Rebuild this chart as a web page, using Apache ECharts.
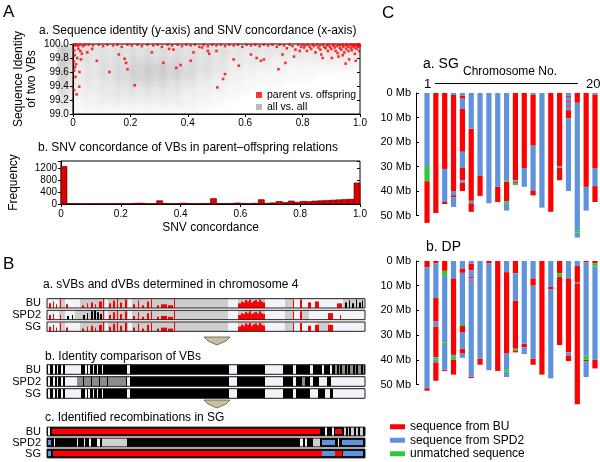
<!DOCTYPE html>
<html><head><meta charset="utf-8">
<script src="https://cdn.jsdelivr.net/npm/echarts@6/dist/echarts.min.js"></script>
<style>
html,body{margin:0;padding:0;background:#fff;}
#wrap{position:relative;width:600px;height:462px;overflow:hidden;}
#cloudBox{position:absolute;left:57px;top:44px;width:303px;height:70px;overflow:hidden;}
#cloud{width:303px;height:70px;filter:blur(2.5px);}
#main{position:absolute;left:0;top:0;width:600px;height:462px;}
</style></head><body>
<div id="wrap"><div id="cloudBox"><div id="cloud"></div></div><div id="main"></div></div>
<script>
const FONT='"Liberation Sans", Arial, Helvetica, sans-serif';
const RED='#ff0000', BLUE='#5f93db', GREEN='#2fc83c';

// ---------- Panel A.a : all vs all density, rows top->bottom ----------
const cloudXEdges=[0,0.03,0.05,0.1,0.15,0.2,0.25,0.3,0.35,0.4,0.45,0.5,0.55,0.6,0.65,0.7,0.75,0.8,0.85,0.9,0.95,1.0];
const cloudYEdges=[100,99.9,99.8,99.7,99.6,99.5,99.4,99.3,99.2,99.1,99.0];
const cloudDensity=[
 [9,6,5,5,5,5,5,5,5,5,5,5,4,4,4,4,4,4,4,4,4],
 [9,5,4,4,4,5,5,5,5,5,4,4,4,3,3,3,3,3,3,3,3],
 [9,5,4,4,5,5,6,6,6,5,5,4,3,3,3,2,2,2,2,2,2],
 [8,4,3,4,5,6,7,8,7,6,5,4,3,2,2,2,1,1,1,1,1],
 [8,4,3,4,5,6,7,7,7,6,4,3,2,2,1,1,1,1,0,0,0],
 [7,3,3,3,4,5,6,6,5,4,3,2,2,1,1,1,0,0,0,0,0],
 [6,3,2,3,3,4,4,4,4,3,2,2,1,1,0,0,0,0,0,0,0],
 [5,2,2,2,3,3,3,3,3,2,2,1,1,0,0,0,0,0,0,0,0],
 [4,2,1,2,2,2,2,2,2,2,1,1,0,0,0,0,0,0,0,0,0],
 [3,1,1,1,1,1,1,1,1,1,1,0,0,0,0,0,0,0,0,0,0]
];
// parent vs offspring points [SNV concordance, sequence identity]
const redPts=[
[0.003,99.99],[0.008,99.98],[0.012,99.99],[0.018,99.97],[0.025,99.99],[0.004,99.91],[0.006,99.84],[0.003,99.75],[0.007,99.67],[0.004,99.62],[0.009,99.53],[0.004,99.34],[0.013,99.28],[0.022,99.39],[0.023,99.6],[0.026,99.9],[0.031,99.86],[0.019,99.93],[0.015,99.8],[0.011,99.71],[0.028,99.78],[0.035,99.97],[0.042,99.99],
[0.05,99.88],[0.067,99.93],[0.083,99.76],[0.127,99.6],[0.16,99.85],[0.18,99.79],[0.185,99.73],[0.19,99.64],[0.215,99.41],[0.275,99.88],[0.315,99.73],[0.335,99.93],[0.35,99.92],[0.36,99.66],[0.375,99.7],[0.41,99.76],[0.42,99.88],[0.45,99.95],[0.47,99.9],[0.475,99.86],[0.5,99.9],[0.503,99.38],[0.523,99.5],[0.53,99.57],[0.56,99.78],[0.578,99.69],[0.62,99.85],[0.64,99.8],[0.655,99.76],[0.665,99.78],[0.716,99.64],[0.73,99.85],[0.74,99.73],[0.77,99.82],[0.79,99.9],
[0.055,99.99],[0.07,99.98],[0.09,99.99],[0.105,99.97],[0.12,99.99],[0.14,99.98],[0.155,99.99],[0.17,99.96],[0.19,99.99],[0.205,99.98],[0.225,99.99],[0.24,99.97],[0.26,99.99],[0.28,99.98],[0.295,99.99],[0.31,99.96],[0.33,99.99],[0.345,99.98],[0.365,99.99],[0.38,99.97],[0.395,99.99],[0.41,99.98],[0.425,99.99],[0.44,99.96],[0.455,99.99],[0.47,99.97],[0.485,99.99],[0.5,99.98],[0.515,99.99],[0.53,99.97],[0.545,99.99],[0.56,99.98],[0.575,99.99],[0.59,99.96],[0.605,99.99],[0.62,99.98],[0.635,99.99],[0.65,99.97],[0.665,99.99],[0.68,99.98],[0.695,99.99],[0.71,99.96],[0.72,99.99],[0.735,99.98],[0.745,99.94],[0.755,99.99],[0.765,99.97],[0.775,99.92],[0.785,99.99],[0.795,99.96],
[0.80,99.99],[0.805,99.95],[0.81,99.98],[0.815,99.9],[0.82,99.99],[0.825,99.96],[0.83,99.93],[0.835,99.99],[0.84,99.97],[0.845,99.88],[0.85,99.99],[0.855,99.95],[0.86,99.98],[0.862,99.92],[0.865,99.85],[0.87,99.99],[0.875,99.96],[0.88,99.94],[0.885,99.98],[0.888,99.9],[0.89,99.99],[0.895,99.96],[0.9,99.93],[0.902,99.8],[0.905,99.98],[0.91,99.99],[0.912,99.95],[0.915,99.9],[0.92,99.97],[0.922,99.87],[0.925,99.99],[0.93,99.94],[0.932,99.98],[0.935,99.92],[0.94,99.99],[0.942,99.96],[0.945,99.88],[0.95,99.98],[0.952,99.93],[0.955,99.99],[0.958,99.96],[0.96,99.9],[0.962,99.78],[0.965,99.98],[0.968,99.94],[0.97,99.99],[0.972,99.91],[0.975,99.97],[0.978,99.99],[0.98,99.95],[0.982,99.86],[0.985,99.98],[0.988,99.93],[0.99,99.99],[0.992,99.96],[0.995,99.99],[0.997,99.9],[0.998,99.97],[0.999,99.99],[0.94,99.84],[0.925,99.82],[0.87,99.8],[0.985,99.76],[0.95,99.72]
];

// ---------- Panel A.b : histogram (bin width 0.02) ----------
const histBinWidth=0.02;
const histCounts=[1250,15,10,8,8,10,8,8,10,15, 10,10,25,30,12,10,110,20,12,15, 30,15,10,15,20,180,20,15,15,35, 20,15,25,145,25,40,85,50,100,60, 90,80,100,110,120,130,140,150,160,700];

// ---------- Panel B : chromosome 4 tracks (positions in VB index units 0-318) ----------
const TRACKS=['BU','SPD2','SG'];
const bAGray=[
 [[12,18],[33,58],[61,81],[85,181],[191,218],[238,246],[296,317]],
 [[12,18],[28,58],[61,81],[85,181],[191,218],[238,246],[253,262]],
 [[12,18],[33,58],[61,81],[85,181],[191,218],[238,246],[270,282]]
];
const bAPeaksLeft=[[2,4,.5],[6,7,.7],[9,10,.4],[13,14,.9],[19,21,.4],[35,37,.3],[40,41,.5],[44,46,.6],[48,49,.4],[52,55,.7]];
const bAPeaksLeftSPD2=[[2,4,.5],[6,7,.6],[13,14,.5]];
const bAPeaksMid=[[56,57,1],[62,64,.5],[66,68,.8],[70,71,1],[73,75,.6],[78,80,.9],[86,88,.4],[91,92,.8],[95,97,.3],[100,102,.7],[104,105,.9],[110,112,.3],[114,120,.4],[121,126,.3],[127,128,1],[191,194,.5],[194,196,.7],[196,198,.6],[198,200,.85],[200,202,.7],[202,204,.9],[204,206,.6],[206,208,.75],[208,210,.85],[210,212,.65],[212,214,.9],[214,216,.7],[216,218,.6],[246,247,.9],[253,255,.9]];
const bAPeaksRight=[
 [[261,264,.6],[268,272,.7],[290,295,.5]],
 [[281,286,.7],[293,294,.5]],
 [[261,264,.6],[268,272,.7],[281,286,.7]]
];
const bABlack=[
 [[298,300,.6],[302,303,.8],[305,307,.5],[309,310,.9],[312,314,.6],[315,316,.8]],
 [[20,22,.4],[25,26,.5],[36,38,.5],[40,41,.7],[44,46,.9],[47,49,1],[50,52,.8],[53,55,.6]],
 []
];
const bBWhite=[
 [[1,3],[6,8],[10,11],[14,16],[18,34],[38,40],[41,43],[46,47],[50,51],[55,56],[80,83],[182,190],[218,236],[246,249],[263,266],[275,277],[283,285]],
 [[1,3],[6,8],[10,11],[14,16],[18,30],[80,83],[182,190],[218,236],[246,249],[263,266],[272,280],[284,318]],
 [[1,3],[6,8],[10,11],[14,16],[18,34],[38,40],[41,43],[46,47],[50,51],[55,56],[80,83],[182,190],[218,236],[246,249],[263,271],[278,283],[286,318]]
];
const bBGray=[
 [[288,290],[292,293],[295,298],[300,301],[303,306],[308,309],[311,314],[316,317]],
 [[30,36],[37,44],[45,52],[53,60],[61,79],[255,258]],
 []
];
const bCRed=[[[5,273],[288,295]],[],[[6,275],[288,295]]];
const bCBlue=[[],[[1,4],[275,288],[295,316]],[[1,4],[275,288],[296,316]]];
const bCWhite=[[[1,3],[278,280],[285,287]],[[7,8],[30,31],[37,38],[42,44],[50,53],[253,256],[258,260],[291,292]],[]];
const bCGray=[[[297,299],[301,302],[304,307],[309,311],[313,316]],[[55,80],[266,273]],[]];

// ---------- Panel C : chromosome origin maps (Mb) ----------
const CHROMS=['1','2','3','4','5','6','7','8','9','10','11','12','13','14','15','16','17','18','19','20'];
const sgSegs=[
 [[0,29.8,'B'],[29.8,36,'G'],[36,53,'R']],
 [[0,49,'R']],
 [[0,31,'R'],[31,44.5,'B'],[44.5,45.3,'R']],
 [[0,0.8,'B'],[0.8,40,'R'],[40,41.7,'B'],[41.7,42.5,'R'],[42.5,46.5,'B']],
 [[0,1,'B'],[1,2.3,'R'],[2.3,6.5,'B'],[6.5,24,'R'],[24,30.6,'B'],[30.6,35.6,'R'],[35.6,36.5,'B'],[36.5,40,'R']],
 [[0,14.6,'B'],[14.6,44,'R'],[44,45,'B'],[45,48.5,'R']],
 [[0,33.6,'B'],[33.6,42,'R']],
 [[0,45,'B']],
 [[0,38.3,'B'],[38.3,44.5,'R']],
 [[0,35.6,'B'],[35.6,36.2,'G'],[36.2,44.2,'R'],[44.2,45.2,'G'],[45.2,48,'B']],
 [[0,35.6,'R'],[35.6,36.4,'B'],[36.4,37,'R'],[37,37.6,'G']],
 [[0,30.6,'R'],[30.6,38.3,'B']],
 [[0,0.8,'B'],[0.8,21.5,'R'],[21.5,39.7,'B'],[39.7,41.8,'R']],
 [[0,46.8,'B']],
 [[0,48.5,'R']],
 [[0,30,'R'],[30,30.6,'B'],[30.6,35.6,'R']],
 [[0,1,'B'],[1,1.6,'R'],[1.6,3,'B'],[3,3.6,'R'],[3.6,5,'B'],[5,5.6,'R'],[5.6,7,'B'],[7,10.3,'R'],[10.3,40,'B']],
 [[0,4,'R'],[4,56,'B'],[56,57,'G'],[57,59,'B']],
 [[0,38.3,'R'],[38.3,48,'B']],
 [[0,0.6,'B'],[0.6,30.6,'R'],[30.6,38,'B'],[38,44.5,'R']]
];
const dpSegs=[
 [[0,2.5,'R'],[2.5,51.5,'B'],[51.5,52.5,'R']],
 [[0,1,'R'],[1,15,'B'],[15,24.5,'R'],[24.5,26.5,'B'],[26.5,39,'R'],[39,40,'G'],[40,41,'B'],[41,48.5,'R']],
 [[0,4,'R'],[4,6,'G'],[6,33,'B'],[33,34,'G'],[34,44,'B'],[44,44.5,'R']],
 [[0,7,'B'],[7,38,'R'],[38,38.6,'B'],[38.6,40,'G'],[40,46,'R']],
 [[0,3,'B'],[3,4.8,'R'],[4.8,25.5,'B'],[25.5,26.3,'G'],[26.3,29,'R'],[29,35.5,'B'],[35.5,37.5,'R'],[37.5,39.2,'B']],
 [[0,1,'B'],[1,3.8,'R'],[3.8,6.5,'B'],[6.5,7,'R'],[7,7.8,'B'],[7.8,8.3,'R'],[8.3,46.8,'B'],[46.8,47.4,'R']],
 [[0,39.5,'B'],[39.5,42,'R']],
 [[0,1,'R'],[1,44.2,'B']],
 [[0,44.5,'R']],
 [[0,4.5,'B'],[4.5,37.5,'R'],[37.5,43.8,'B'],[43.8,44.8,'G'],[44.8,47,'B']],
 [[0,5,'R'],[5,16,'B'],[16,35.5,'R'],[35.5,36.2,'G'],[36.2,37,'R']],
 [[0,33.5,'B'],[33.5,35,'R'],[35,37.7,'B']],
 [[0,7,'B'],[7,10,'R'],[10,39.5,'B'],[39.5,42,'R']],
 [[0,46,'R']],
 [[0,10.5,'B'],[10.5,11.5,'R'],[11.5,47.5,'B']],
 [[0,5,'R'],[5,6.5,'G'],[6.5,34,'R']],
 [[0,7,'B'],[7,37,'R'],[37,38.2,'B'],[38.2,40.5,'R']],
 [[0,2,'B'],[2,8.5,'R'],[8.5,9,'B'],[9,58,'R']],
 [[0,0.6,'R'],[0.6,38.2,'B'],[38.2,40,'G'],[40,40.6,'R'],[40.6,47,'B']],
 [[0,1,'R'],[1,2.2,'G'],[2.2,40,'B'],[40,43.5,'R']]
];

// ================= cloud layer (blurred) =================
const cloudData=[];
cloudDensity.forEach((row,r)=>row.forEach((d,c)=>{ if(d>0) cloudData.push([cloudXEdges[c],cloudXEdges[c+1],cloudYEdges[r+1],cloudYEdges[r],d]); }));
const cloudChart=echarts.init(document.getElementById('cloud'));
cloudChart.setOption({animation:false,grid:{left:0,right:0,top:0,bottom:0},
 xAxis:{type:'value',min:0,max:1,show:false},yAxis:{type:'value',min:99,max:100,show:false},
 series:[{type:'custom',data:cloudData,encode:{x:[0,1],y:[2,3]},renderItem:function(p,api){
   const a=api.coord([api.value(0),api.value(3)]), b=api.coord([api.value(1),api.value(2)]);
   return {type:'rect',shape:{x:a[0]-1,y:a[1]-1,width:b[0]-a[0]+2,height:b[1]-a[1]+2},style:{fill:'rgba(120,120,120,'+(api.value(4)*0.036)+')'}};
 }}]});

// ================= main chart =================
const histData=histCounts.map((v,i)=>[i*histBinWidth,(i+1)*histBinWidth,v]);

function buildTrackData(parts){
  const d=[];
  parts.forEach(([kind,arr])=>arr.forEach((list,t)=>list.forEach(s=>d.push([t,s[0],s[1],kind,s.length>2?s[2]:1]))));
  return d;
}
const FULL=[[[0,318]],[[0,318]],[[0,318]]];
const bAData=buildTrackData([[0,FULL],[1,bAGray],[2,[bAPeaksLeft,bAPeaksLeftSPD2,bAPeaksLeft]],[2,[bAPeaksMid,bAPeaksMid,bAPeaksMid]],[2,bAPeaksRight],[3,bABlack],[10,FULL]]);
const bBData=buildTrackData([[4,FULL],[5,bBWhite],[6,bBGray],[10,FULL]]);
const bCData=buildTrackData([[4,FULL],[5,bCWhite],[7,bCGray],[8,bCRed],[9,bCBlue],[10,FULL]]);

function trackRender(p,api){
  const t=api.value(0),s=api.value(1),e=api.value(2),k=api.value(3),h=api.value(4);
  const a=api.coord([s,t]), b=api.coord([e,t]);
  const band=api.size([0,1])[1];
  const H=band*0.8, top=a[1]-H/2, x=a[0], w=Math.max(b[0]-a[0],0.9);
  const full={x:x,y:top,width:w,height:H};
  switch(k){
    case 0: return {type:'rect',shape:full,style:{fill:'#f2f2f9'}};
    case 1: return {type:'rect',shape:full,style:{fill:'#cdcdcd'}};
    case 2: return {type:'rect',shape:{x:x,y:top+H*(1-h),width:w,height:H*h},style:{fill:RED}};
    case 3: return {type:'rect',shape:{x:x,y:top+H*(1-h),width:w,height:H*h},style:{fill:'#000'}};
    case 4: return {type:'rect',shape:full,style:{fill:'#000'}};
    case 5: return {type:'rect',shape:full,style:{fill:'#f2f2f9'}};
    case 6: return {type:'rect',shape:full,style:{fill:'#8c8c8c'}};
    case 7: return {type:'rect',shape:full,style:{fill:'#d0d0d0'}};
    case 8: return {type:'rect',shape:{x:x,y:top+H*0.2,width:w,height:H*0.6},style:{fill:RED}};
    case 9: return {type:'rect',shape:{x:x,y:top+H*0.2,width:w,height:H*0.6},style:{fill:BLUE}};
    default: return {type:'rect',shape:full,style:{fill:'none',stroke:'#222',lineWidth:1}};
  }
}
function chromRender(color){
  return function(p,api){
    const c=api.value(0),s=api.value(1),e=api.value(2);
    const a=api.coord([c,s]), b=api.coord([c,e]);
    return {type:'rect',shape:{x:a[0]-2.6,y:a[1],width:5.2,height:b[1]-a[1]},style:{fill:color}};
  };
}
function chromSeries(segs,code,color,name,xi,yi){
  const data=[];
  segs.forEach((list,ci)=>list.forEach(sg=>{ if(sg[2]===code) data.push([ci,sg[0],sg[1]]); }));
  return {type:'custom',name:name,xAxisIndex:xi,yAxisIndex:yi,clip:false,itemStyle:{color:color},renderItem:chromRender(color),data:data,encode:{x:0,y:[1,2]}};
}

const axBlack={lineStyle:{color:'#000',width:1}};
const fmtX=v=>v===0?'0':v.toFixed(1);
const rightTicks=(g,min,max,iv)=>({gridIndex:g,type:'value',position:'right',min:min,max:max,interval:iv,axisLine:{show:false},axisTick:{show:true,inside:true,length:3,lineStyle:{color:'#000'}},axisLabel:{show:false},splitLine:{show:false}});
const trackY=g=>({gridIndex:g,type:'category',data:TRACKS,inverse:true,axisLine:{show:false},axisTick:{show:false},axisLabel:{interval:0,fontSize:11,margin:6,color:'#000',fontFamily:FONT},splitLine:{show:false}});
const mbY=g=>({gridIndex:g,type:'value',inverse:true,min:0,max:50,interval:10,offset:6.6,axisLine:{show:true,lineStyle:{color:'#000'}},axisTick:{show:true,inside:true,length:3,lineStyle:{color:'#000'}},axisLabel:{formatter:'{value} Mb',fontSize:11,margin:5,color:'#000',fontFamily:FONT},splitLine:{show:false}});

const T=(text,x,y,fs,align)=>({type:'text',x:x,y:y,silent:true,style:{text:text,fontSize:fs||12,fontFamily:FONT,fill:'#000',align:align||'left',verticalAlign:'middle',textAlign:align||'left',textVerticalAlign:'middle'}});
const arrow=(cx,ty)=>({type:'polygon',silent:true,shape:{points:[[cx-13,ty],[cx+13,ty],[cx+9,ty+4],[cx,ty+8],[cx-9,ty+4]]},style:{fill:'#c9bf98',stroke:'#555',lineWidth:0.8}});

const option={
 animation:false,
 textStyle:{fontFamily:FONT,color:'#000'},
 grid:[
  {left:57,top:44,width:303,height:70,show:true,borderColor:'#000',borderWidth:1,backgroundColor:'transparent'},
  {left:57,top:161,width:303,height:43,show:true,borderColor:'#000',borderWidth:1,backgroundColor:'transparent'},
  {left:47,top:297.5,width:318,height:35},
  {left:47,top:363.5,width:318,height:36},
  {left:47,top:426,width:318,height:33},
  {left:422.6,top:93,width:176.8,height:122.5},
  {left:422.6,top:261,width:176.8,height:123.5}
 ],
 xAxis:[
  {gridIndex:0,type:'value',min:0,max:1,interval:0.2,splitLine:{show:false},axisLine:axBlack,axisTick:{length:3,lineStyle:{color:'#000'}},axisLabel:{fontSize:10,margin:4,color:'#000',formatter:fmtX}},
  {gridIndex:1,type:'value',min:0,max:1,interval:0.2,splitLine:{show:false},axisLine:axBlack,axisTick:{length:3,lineStyle:{color:'#000'}},axisLabel:{fontSize:10,margin:5,color:'#000',formatter:fmtX},
   name:'SNV concordance',nameLocation:'middle',nameGap:18,nameTextStyle:{fontSize:12,color:'#000',verticalAlign:'top'}},
  {gridIndex:2,type:'value',min:0,max:318,show:false},
  {gridIndex:3,type:'value',min:0,max:318,show:false},
  {gridIndex:4,type:'value',min:0,max:318,show:false},
  {gridIndex:5,type:'category',data:CHROMS,show:false},
  {gridIndex:6,type:'category',data:CHROMS,show:false}
 ],
 yAxis:[
  {gridIndex:0,type:'value',min:99,max:100,interval:0.2,splitLine:{show:false},axisLine:axBlack,axisTick:{length:3,lineStyle:{color:'#000'}},axisLabel:{fontSize:10,margin:4,color:'#000',formatter:v=>v.toFixed(1)},
   name:'Sequence Identity\nof two VBs',nameLocation:'middle',nameGap:35,nameTextStyle:{fontSize:12,lineHeight:12.5,color:'#000'}},
  rightTicks(0,99,100,0.2),
  {gridIndex:1,type:'value',min:0,max:1430,interval:400,splitLine:{show:false},axisLine:axBlack,axisTick:{length:3,lineStyle:{color:'#000'}},axisLabel:{fontSize:10,margin:4,color:'#000',formatter:v=>(v%400===0?String(v):'')},
   name:'Frequency',nameLocation:'middle',nameGap:41,nameTextStyle:{fontSize:12,color:'#000'}},
  rightTicks(1,0,1430,400),
  trackY(2),trackY(3),trackY(4),
  mbY(5),mbY(6)
 ],
 legend:[
  {data:['parent vs. offspring','all vs. all'],orient:'vertical',left:256,top:89,icon:'rect',itemWidth:6,itemHeight:6,itemGap:0,padding:0,selectedMode:false,textStyle:{fontSize:10.5,color:'#000',fontFamily:FONT,lineHeight:12}},
  {data:['sequence from BU','sequence from SPD2','unmatched sequence'],orient:'vertical',left:390,top:420,icon:'rect',itemWidth:15,itemHeight:5,itemGap:0,padding:0,selectedMode:false,textStyle:{fontSize:12,color:'#000',fontFamily:FONT,lineHeight:13.5}}
 ],
 graphic:[
  T('A',3,12,17), T('a. Sequence identity (y-axis) and SNV concordance (x-axis)',39,31,12),
  T('b. SNV concordance of VBs in parent\u2013offspring relations',38,148,12),
  T('B',3,264,17), T('a. sVBs and dVBs determined in chromosome 4',43,285,12),
  T('b. Identity comparison of VBs',45,357,12), T('c. Identified recombinations in SG',45,418,12),
  T('C',382,13,17), T('a. SG',423,64,14), T('Chromosome No.',510,72,12,'center'),
  T('1',424,84,13), T('20',586,84,13), T('b. DP',426,247,14),
  {type:'line',silent:true,shape:{x1:435,y1:83.5,x2:578,y2:83.5},style:{stroke:'#000',lineWidth:1}},
  arrow(217,337), arrow(217,400)
 ],
 series:[
  {type:'scatter',name:'parent vs. offspring',xAxisIndex:0,yAxisIndex:0,symbol:'rect',symbolSize:2.6,itemStyle:{color:RED},data:redPts,z:3},
  {type:'scatter',name:'all vs. all',xAxisIndex:0,yAxisIndex:0,symbol:'rect',itemStyle:{color:'#a8a8a8'},data:[]},
  {type:'custom',name:'hist',xAxisIndex:1,yAxisIndex:2,data:histData,encode:{x:[0,1],y:2},renderItem:function(p,api){
    const a=api.coord([api.value(0),api.value(2)]), b=api.coord([api.value(1),0]);
    return {type:'rect',shape:{x:a[0],y:a[1],width:b[0]-a[0],height:b[1]-a[1]},style:{fill:'#dd0000',stroke:'#4a0000',lineWidth:0.6}};
  }},
  {type:'custom',name:'ba',xAxisIndex:2,yAxisIndex:4,data:bAData,encode:{x:[1,2],y:0},renderItem:trackRender},
  {type:'custom',name:'bb',xAxisIndex:3,yAxisIndex:5,data:bBData,encode:{x:[1,2],y:0},renderItem:trackRender},
  {type:'custom',name:'bc',xAxisIndex:4,yAxisIndex:6,data:bCData,encode:{x:[1,2],y:0},renderItem:trackRender},
  chromSeries(sgSegs,'R',RED,'sequence from BU',5,7),
  chromSeries(sgSegs,'B',BLUE,'sequence from SPD2',5,7),
  chromSeries(sgSegs,'G',GREEN,'unmatched sequence',5,7),
  chromSeries(dpSegs,'R',RED,'sequence from BU',6,8),
  chromSeries(dpSegs,'B',BLUE,'sequence from SPD2',6,8),
  chromSeries(dpSegs,'G',GREEN,'unmatched sequence',6,8)
 ]
};
const chart=echarts.init(document.getElementById('main'));
chart.setOption(option);
</script></body></html>
